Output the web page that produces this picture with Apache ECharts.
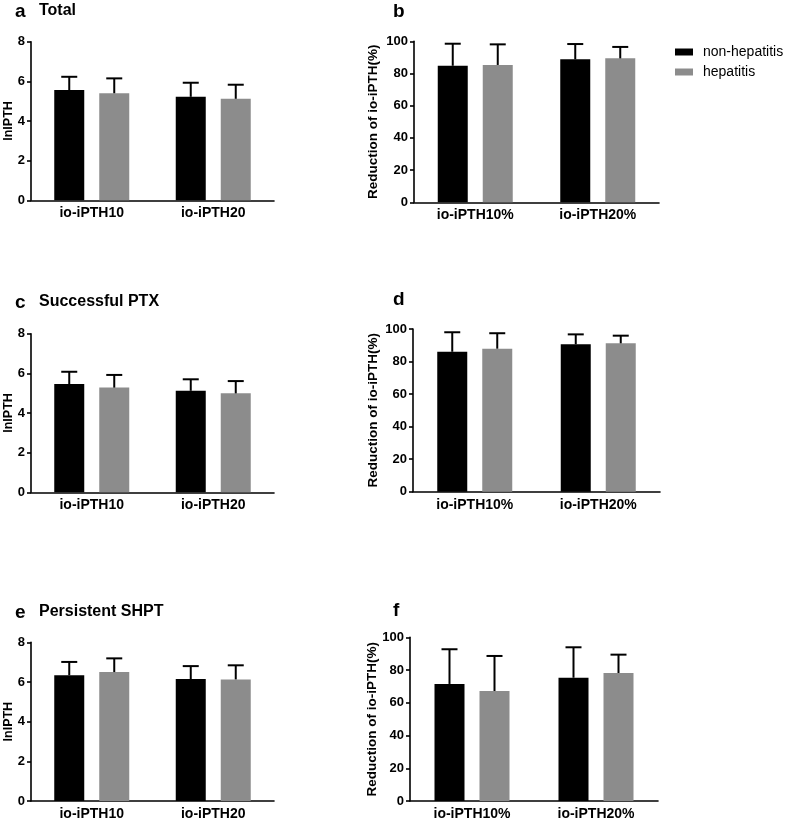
<!DOCTYPE html>
<html><head><meta charset="utf-8">
<script src="https://cdn.jsdelivr.net/npm/echarts@6/dist/echarts.min.js"></script>
<style>html,body{margin:0;padding:0;background:#fff}#chart{width:787px;height:822px}</style>
</head><body><div id="chart"></div>
<script>
// ---- data ----
const groupNames = ['non-hepatitis', 'hepatitis'];
const catsLn = ['io-iPTH10', 'io-iPTH20'];
const catsPct = ['io-iPTH10%', 'io-iPTH20%'];
const lnTicks = [0, 2, 4, 6, 8];
const pctTicks = [0, 20, 40, 60, 80, 100];

// a  Total (lnIPTH)
const aNonMean = [5.56, 5.22], aNonSd = [0.67, 0.71];
const aHepMean = [5.40, 5.12], aHepSd = [0.75, 0.71];
// b  Total (reduction %)
const bNonMean = [84.8, 88.8], bNonSd = [13.7, 9.5];
const bHepMean = [85.3, 89.4], bHepSd = [12.8, 7.1];
// c  Successful PTX (lnIPTH)
const cNonMean = [5.46, 5.12], cNonSd = [0.62, 0.58];
const cHepMean = [5.28, 4.99], cHepSd = [0.64, 0.62];
// d  Successful PTX (reduction %)
const dNonMean = [86.0, 90.6], dNonSd = [12.0, 6.1];
const dHepMean = [87.9, 91.2], dHepSd = [9.5, 4.7];
// e  Persistent SHPT (lnIPTH)
const eNonMean = [6.34, 6.15], eNonSd = [0.67, 0.65];
const eHepMean = [6.50, 6.13], eHepSd = [0.69, 0.71];
// f  Persistent SHPT (reduction %)
const fNonMean = [71.5, 75.3], fNonSd = [21.2, 18.6];
const fHepMean = [67.2, 78.2], fHepSd = [21.4, 11.2];

// ---- layout/style ----
const FONT = "'Liberation Sans', Arial, Helvetica, sans-serif";
const BLACK = '#000000', GRAY = '#8c8c8c';
const BAR_W = 30, BAR_GAP = 15;

const panels = [
  {letter:'a', title:'Total', grid:{left:31, top:41.7, width:243, height:158.6}, cats:catsLn, ticks:lnTicks, yName:'lnIPTH', nameGap:16,
   non:[aNonMean,aNonSd], hep:[aHepMean,aHepSd], lx:15, ty:2},
  {letter:'b', title:'', grid:{left:414, top:41.3, width:245, height:161}, cats:catsPct, ticks:pctTicks, yName:'Reduction of io-iPTH(%)', nameGap:34,
   non:[bNonMean,bNonSd], hep:[bHepMean,bHepSd], lx:393, ty:2},
  {letter:'c', title:'Successful PTX', grid:{left:31, top:333.7, width:243, height:158.6}, cats:catsLn, ticks:lnTicks, yName:'lnIPTH', nameGap:16,
   non:[cNonMean,cNonSd], hep:[cHepMean,cHepSd], lx:15, ty:293},
  {letter:'d', title:'', grid:{left:413, top:329, width:247, height:162.7}, cats:catsPct, ticks:pctTicks, yName:'Reduction of io-iPTH(%)', nameGap:33,
   non:[dNonMean,dNonSd], hep:[dHepMean,dHepSd], lx:393, ty:290},
  {letter:'e', title:'Persistent SHPT', grid:{left:31, top:642.3, width:243, height:158.7}, cats:catsLn, ticks:lnTicks, yName:'lnIPTH', nameGap:16,
   non:[eNonMean,eNonSd], hep:[eHepMean,eHepSd], lx:15, ty:603},
  {letter:'f', title:'', grid:{left:410, top:637.3, width:248, height:163.7}, cats:catsPct, ticks:pctTicks, yName:'Reduction of io-iPTH(%)', nameGap:31,
   non:[fNonMean,fNonSd], hep:[fHepMean,fHepSd], lx:393, ty:601}
];

const grids = [], xAxes = [], yAxes = [], series = [], titles = [];

function errRender(offset) {
  return function (params, api) {
    const idx = api.value(0);
    const base = api.coord([idx, api.value(1)]);
    const top = api.coord([idx, api.value(2)]);
    const x = base[0] + offset;
    const st = {stroke: '#000', lineWidth: 2};
    return {type: 'group', children: [
      {type: 'line', shape: {x1: x, y1: base[1], x2: x, y2: top[1]}, style: st},
      {type: 'line', shape: {x1: x - 8, y1: top[1], x2: x + 8, y2: top[1]}, style: st}
    ]};
  };
}

panels.forEach((p, i) => {
  grids.push(Object.assign({containLabel: false, outerBoundsMode: 'none'}, p.grid));
  xAxes.push({
    type: 'category', gridIndex: i, data: p.cats,
    axisLine: {lineStyle: {color: '#000', width: 1.6}},
    axisTick: {alignWithLabel: true, length: 4, lineStyle: {color: '#000', width: 1.6}},
    axisLabel: {color: '#000', fontFamily: FONT, fontWeight: 'bold', fontSize: 14, margin: 6},
    splitLine: {show: false}
  });
  const tmax = p.ticks[p.ticks.length - 1];
  yAxes.push({
    type: 'value', gridIndex: i, min: p.ticks[0], max: tmax, interval: p.ticks[1] - p.ticks[0],
    name: p.yName, nameLocation: 'middle', nameRotate: 90, nameGap: p.nameGap, nameMoveOverlap: false,
    nameTextStyle: {color: '#000', fontFamily: FONT, fontWeight: 'bold', fontSize: p.yName.length > 10 ? 13.5 : 12.5},
    axisLine: {show: true, lineStyle: {color: '#000', width: 1.6}},
    axisTick: {show: true, length: 4, lineStyle: {color: '#000', width: 1.6}},
    axisLabel: {color: '#000', fontFamily: FONT, fontWeight: 'bold', fontSize: 13, margin: 6},
    splitLine: {show: false}
  });
  const groups = [p.non, p.hep];
  groups.forEach((g, k) => {
    series.push({
      type: 'bar', name: groupNames[k], xAxisIndex: i, yAxisIndex: i,
      data: g[0], barWidth: BAR_W, barGap: (BAR_GAP / BAR_W * 100) + '%',
      itemStyle: {color: k === 0 ? BLACK : GRAY}, silent: true
    });
  });
  groups.forEach((g, k) => {
    const off = (k === 0 ? -1 : 1) * (BAR_W + BAR_GAP) / 2;
    series.push({
      type: 'custom', xAxisIndex: i, yAxisIndex: i, z: 5, silent: true,
      renderItem: errRender(off),
      encode: {x: 0, y: [1, 2]},
      data: g[0].map((m, j) => [j, m, +(m + g[1][j]).toFixed(3)])
    });
  });
  titles.push({text: p.letter, left: p.lx, top: p.ty,
    textStyle: {fontFamily: FONT, fontWeight: 'bold', fontSize: 19, color: '#000'}, padding: 0});
  if (p.title) titles.push({text: p.title, left: p.lx + 24, top: p.ty + 1,
    textStyle: {fontFamily: FONT, fontWeight: 'bold', fontSize: 16, color: '#000'}, padding: 0});
});

const chart = echarts.init(document.getElementById('chart'), null, {renderer: 'canvas'});
chart.setOption({
  animation: false,
  backgroundColor: '#fff',
  title: titles,
  grid: grids, xAxis: xAxes, yAxis: yAxes, series: series,
  legend: {
    data: groupNames, orient: 'vertical', left: 675, top: 45,
    icon: 'rect', itemWidth: 18, itemHeight: 7, itemGap: 6, padding: 0,
    selectedMode: false,
    textStyle: {fontFamily: FONT, fontSize: 14, color: '#000', padding: [0, 0, 0, 5]}
  }
});
</script></body></html>
